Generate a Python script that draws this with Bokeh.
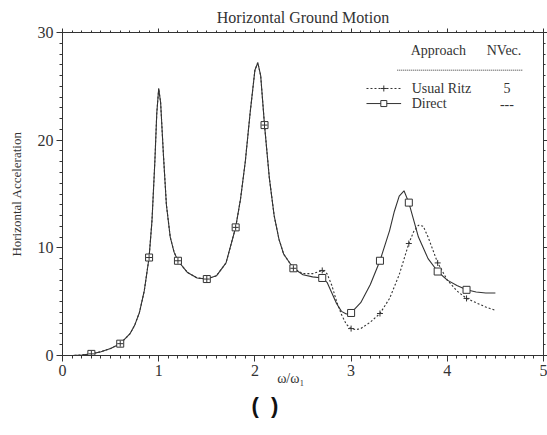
from bokeh.plotting import figure
from bokeh.models import LinearAxis, SingleIntervalTicker, Range1d, Title
from bokeh.core.properties import value
from bokeh.embed import file_html
from bokeh.resources import INLINE

# ---- data ----
direct_x = [0.0, 0.1, 0.2, 0.3, 0.4, 0.5, 0.6, 0.7, 0.75, 0.8, 0.85, 0.9, 0.93, 0.96, 0.98, 1.0,
            1.02, 1.05, 1.08, 1.12, 1.16, 1.2, 1.3, 1.4, 1.5, 1.6, 1.7, 1.8, 1.85, 1.9, 1.95, 2.0,
            2.03, 2.06, 2.1, 2.15, 2.2, 2.25, 2.3, 2.4, 2.5, 2.6, 2.7, 2.75, 2.8, 2.85, 2.9, 2.95,
            3.0, 3.1, 3.2, 3.3, 3.4, 3.45, 3.5, 3.55, 3.6, 3.7, 3.8, 3.9, 4.0, 4.1, 4.2, 4.3, 4.4, 4.5]
direct_y = [0.0, 0.0, 0.05, 0.15, 0.35, 0.65, 1.1, 2.0, 2.8, 4.0, 6.0, 9.1, 12.5, 18.0, 22.5, 24.8,
            23.5, 18.5, 14.0, 11.0, 9.6, 8.8, 7.7, 7.2, 7.1, 7.4, 8.6, 11.9, 14.5, 18.0, 22.5, 26.5,
            27.2, 26.0, 21.4, 16.5, 13.0, 10.8, 9.4, 8.1, 7.5, 7.3, 7.2, 6.8, 5.8, 4.8, 4.1, 3.85,
            3.95, 4.9, 6.6, 8.8, 11.6, 13.4, 14.8, 15.3, 14.2, 11.0, 9.0, 7.8, 7.0, 6.5, 6.1, 5.9, 5.8, 5.8]

ritz_x = [0.0, 0.1, 0.2, 0.3, 0.4, 0.5, 0.6, 0.7, 0.75, 0.8, 0.85, 0.9, 0.93, 0.96, 0.98, 1.0,
          1.02, 1.05, 1.08, 1.12, 1.16, 1.2, 1.3, 1.4, 1.5, 1.6, 1.7, 1.8, 1.85, 1.9, 1.95, 2.0,
          2.03, 2.06, 2.1, 2.15, 2.2, 2.25, 2.3, 2.4, 2.5, 2.6, 2.7, 2.75, 2.8, 2.85, 2.9, 2.95,
          3.0, 3.05, 3.1, 3.2, 3.3, 3.4, 3.5, 3.6, 3.65, 3.7, 3.75, 3.8, 3.9, 4.0, 4.1, 4.2, 4.3, 4.4, 4.5]
ritz_y = [0.0, 0.0, 0.05, 0.15, 0.35, 0.65, 1.1, 2.0, 2.8, 4.0, 6.0, 9.1, 12.5, 18.0, 22.5, 24.8,
          23.5, 18.5, 14.0, 11.0, 9.6, 8.8, 7.7, 7.2, 7.1, 7.4, 8.6, 11.9, 14.5, 18.0, 22.5, 26.5,
          27.2, 26.0, 21.4, 16.5, 13.0, 10.8, 9.4, 8.1, 7.6, 7.6, 7.9, 7.6, 6.5, 5.0, 3.8, 2.9,
          2.5, 2.4, 2.5, 3.1, 3.9, 5.3, 7.5, 10.4, 11.5, 12.1, 12.0, 11.0, 8.6, 7.0, 6.0, 5.3, 4.9, 4.5, 4.2]

mark_x = [0.3, 0.6, 0.9, 1.2, 1.5, 1.8, 2.1, 2.4, 2.7, 3.0, 3.3, 3.6, 3.9, 4.2]
direct_mark_y = [0.15, 1.1, 9.1, 8.8, 7.1, 11.9, 21.4, 8.1, 7.2, 3.95, 8.8, 14.2, 7.8, 6.1]
ritz_mark_y = [0.15, 1.1, 9.1, 8.8, 7.1, 11.9, 21.4, 8.1, 7.9, 2.5, 3.9, 10.4, 8.6, 5.3]

legend_header = ["Approach", "NVec."]
legend_names = ["Usual Ritz", "Direct"]
legend_nvec = ["5", "---"]

title_text = "Horizontal Ground Motion"
y_label = "Horizontal Acceleration"
x_label = "\u03c9/\u03c9\u2081" + "\u00a0" * 7
caption = "(\u00a0\u00a0)"

SERIF = "Liberation Serif"
INK = "#333333"

p = figure(width=547, height=435, x_range=Range1d(0, 5), y_range=Range1d(0, 30),
           output_backend="svg", toolbar_location=None,
           min_border_left=62, min_border_right=4, min_border_top=32, min_border_bottom=80)
p.grid.visible = False
p.outline_line_color = INK
p.background_fill_color = "white"
p.border_fill_color = "white"

p.title.text = title_text
p.title.align = "center"
p.title.text_font = SERIF
p.title.text_font_style = "normal"
p.title.text_font_size = "16px"
p.title.text_color = INK
p.title.offset = 0
p.title.standoff = 6

def style_axis(ax):
    ax.axis_line_color = INK
    ax.major_tick_line_color = INK
    ax.minor_tick_line_color = INK
    ax.major_tick_in = 0
    ax.major_tick_out = 6
    ax.minor_tick_in = 0
    ax.minor_tick_out = 3
    ax.major_label_text_font = SERIF
    ax.major_label_text_font_size = "16px"
    ax.major_label_text_color = INK
    ax.major_label_standoff = 3

p.xaxis.ticker = SingleIntervalTicker(interval=1, num_minor_ticks=10)
p.yaxis.ticker = SingleIntervalTicker(interval=10, num_minor_ticks=10)
style_axis(p.xaxis[0])
style_axis(p.yaxis[0])
p.yaxis.axis_label = y_label
p.yaxis.axis_label_text_font = SERIF
p.yaxis.axis_label_text_font_style = "normal"
p.yaxis.axis_label_text_font_size = "13px"
p.yaxis.axis_label_text_color = INK
p.yaxis.axis_label_standoff = 11

p.xaxis.axis_label = x_label
p.xaxis.axis_label_text_font = SERIF
p.xaxis.axis_label_text_font_style = "normal"
p.xaxis.axis_label_text_font_size = "14px"
p.xaxis.axis_label_text_color = INK
p.xaxis.axis_label_standoff = -8

top = LinearAxis(ticker=SingleIntervalTicker(interval=1, num_minor_ticks=10))
style_axis(top)
top.major_tick_out = 4
top.minor_tick_out = 2
top.major_label_overrides = {i: "" for i in range(0, 6)}
p.add_layout(top, "above")
right = LinearAxis(ticker=SingleIntervalTicker(interval=10, num_minor_ticks=10))
style_axis(right)
right.major_tick_out = 4
right.minor_tick_out = 2
right.major_label_overrides = {i: "" for i in (0, 10, 20, 30)}
p.add_layout(right, "right")

# curves
p.line(ritz_x, ritz_y, line_color=INK, line_width=1.1, line_dash="2 2")
p.line(direct_x, direct_y, line_color=INK, line_width=1.1)
p.scatter(mark_x, direct_mark_y, marker="square", size=7, fill_color="white",
          line_color=INK, line_width=1)
p.scatter(mark_x, ritz_mark_y, marker="cross", size=6, line_color=INK, line_width=1)

# legend (drawn by hand, as in the reference)
p.text([3.62, 4.41], [28.3, 28.3], text=legend_header, text_font=value(SERIF),
       text_font_size="14px", text_baseline="middle", text_color=INK)
p.segment([3.48], [26.5], [4.78], [26.5], line_color=INK, line_width=1, line_dash="1 1")
p.text([3.63, 3.63], [24.8, 23.4], text=legend_names, text_font=value(SERIF),
       text_font_size="14px", text_baseline="middle", text_color=INK)
p.text([4.62, 4.62], [24.8, 23.4], text=legend_nvec, text_font=value(SERIF),
       text_font_size="14px", text_baseline="middle", text_align="center", text_color=INK)
p.segment([3.16], [24.8], [3.52], [24.8], line_color=INK, line_width=1, line_dash="2 2")
p.segment([3.16], [23.4], [3.52], [23.4], line_color=INK, line_width=1)
p.scatter([3.34], [24.8], marker="cross", size=6, line_color=INK)
p.scatter([3.34], [23.4], marker="square", size=6, fill_color="white", line_color=INK)

# caption below the chart
cap = Title(text=caption, align="left", offset=189, text_font="Liberation Sans",
            text_font_size="22px", text_font_style="bold", text_color="#111111",
            standoff=4)
p.add_layout(cap, "below")

open("out.html", "w").write(file_html(p, INLINE))
